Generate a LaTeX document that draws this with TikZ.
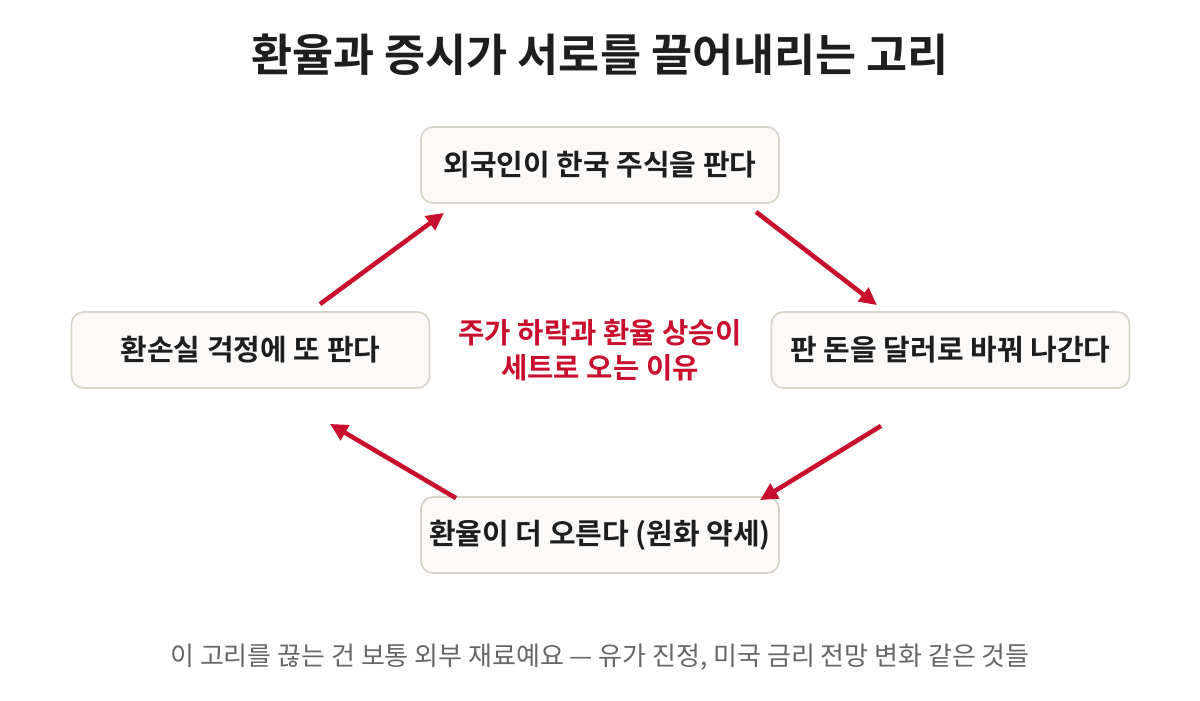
\documentclass[tikz,border=0pt]{standalone}
\usepackage{fontspec}
\setmainfont{Noto Sans CJK KR}[BoldFont={Noto Sans CJK KR Bold}]
\usetikzlibrary{arrows.meta, positioning, calc}
\definecolor{loopRed}{HTML}{C8102E}
\definecolor{boxFill}{HTML}{FBFAF8}
\definecolor{boxLine}{HTML}{D9D4CB}
\definecolor{textDark}{HTML}{1E1E1E}
\definecolor{textMuted}{HTML}{666666}

\begin{document}
\begin{tikzpicture}[x=0.02cm, y=-0.02cm,
    stage/.style={rectangle, rounded corners=12pt*0.567, draw=boxLine, line width=1pt,
                  fill=boxFill, minimum width=358*0.02cm, minimum height=76*0.02cm,
                  inner sep=0pt, font=\bfseries\fontsize{16.5}{20}\selectfont, text=textDark},
    cyc/.style={-{Triangle[length=10pt, width=9.5pt]}, line width=2.6pt, loopRed},
  ]
    \useasboundingbox (0,0) rectangle (1200,700);
    % ─── Title ───
    \node[font=\bfseries\fontsize{25.4}{30}\selectfont, text=textDark] (title) at (600, 55)
      {환율과 증시가 서로를 끌어내리는 고리};
    % Four stages of the loop
    \node[stage] (top) at (600, 165) {외국인이 한국 주식을 판다};
    \node[stage] (rgt) at (950.5, 350) {판 돈을 달러로 바꿔 나간다};
    \node[stage] (bot) at (600, 535) {환율이 더 오른다 (원화 약세)};
    \node[stage] (lft) at (250.5, 350) {환손실 걱정에 또 판다};
    % Centre note
    \node[font=\bfseries\fontsize{16.3}{20}\selectfont, text=loopRed, align=center] (why) at (600, 350)
      {주가 하락과 환율 상승이\\세트로 오는 이유};
    % Arrows round the loop
    \draw[cyc] ($(lft.north)+(69.5,-7)$) -- ($(top.south)+(-156,9)$);
    \draw[cyc] ($(top.south)+(156,8)$) -- ($(rgt.north)+(-73.5,-6)$);
    \draw[cyc] ($(rgt.south)+(-69.5,37)$) -- ($(bot.north)+(160,4)$);
    \draw[cyc] ($(bot.north)+(-144,2)$) -- ($(lft.south)+(79.5,35)$);
    % ─── Footnote ───
    \node[font=\fontsize{14.8}{18}\selectfont, text=textMuted] (foot) at (600, 657)
      {이 고리를 끊는 건 보통 외부 재료예요 — 유가 진정, 미국 금리 전망 변화 같은 것들};
  \end{tikzpicture}
\end{document}
